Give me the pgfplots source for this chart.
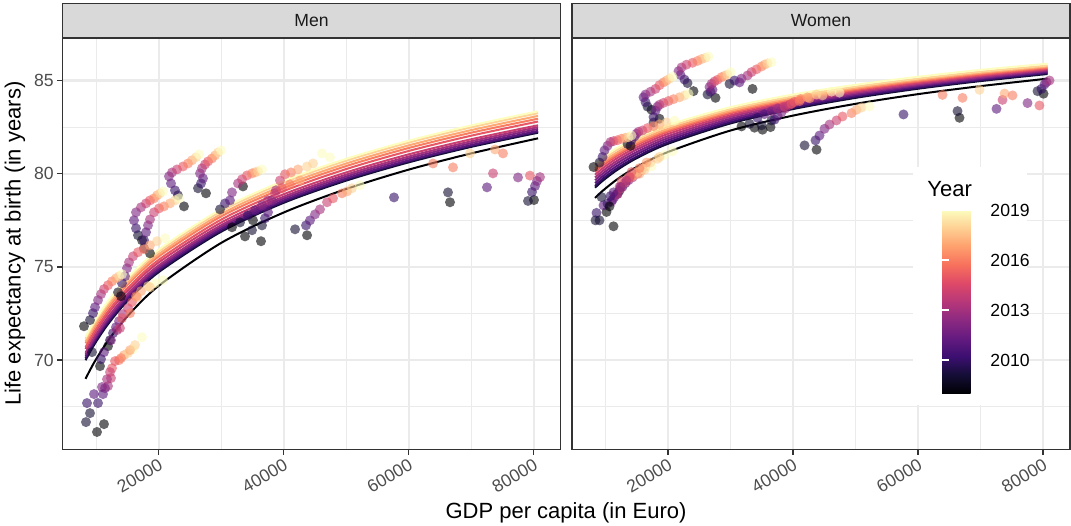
\documentclass[border=0pt]{standalone}
\usepackage{pgfplots}
\pgfplotsset{compat=1.18}
\usepackage{pgfplotstable}
\usepackage{fontspec}
\setmainfont{Liberation Sans}
\definecolor{grey92}{HTML}{EBEBEB}
\definecolor{grey85}{HTML}{D9D9D9}
\definecolor{grey20}{HTML}{333333}
\definecolor{grey30}{HTML}{4D4D4D}
\definecolor{grey10}{HTML}{1A1A1A}
\definecolor{y2008}{RGB}{0,0,4}
\definecolor{y2009}{RGB}{18,13,50}
\definecolor{y2010}{RGB}{52,15,101}
\definecolor{y2011}{RGB}{89,23,124}
\definecolor{y2012}{RGB}{125,36,129}
\definecolor{y2013}{RGB}{163,49,125}
\definecolor{y2014}{RGB}{201,63,113}
\definecolor{y2015}{RGB}{231,87,100}
\definecolor{y2016}{RGB}{249,125,97}
\definecolor{y2017}{RGB}{254,168,116}
\definecolor{y2018}{RGB}{254,211,150}
\definecolor{y2019}{RGB}{252,253,191}
\pgfplotsset{colormap={magma}{rgb255=(0,0,4) rgb255=(20,14,54) rgb255=(59,15,112) rgb255=(100,26,128) rgb255=(140,41,129) rgb255=(183,55,121) rgb255=(222,73,104) rgb255=(247,112,92) rgb255=(254,159,109) rgb255=(254,207,146) rgb255=(252,253,191)}}
\pgfplotsset{
  panel/.style={
    scale only axis, width=249pt, height=205.65pt,
    xmin=4.61, xmax=84.29, ymin=65.22, ymax=87.28,
    xtick={20,40,60,80}, xticklabels={20000,40000,60000,80000},
    ytick={70,75,80,85},
    minor xtick={10,30,50,70}, minor ytick={67.5,72.5,77.5,82.5},
    grid=both,
    major grid style={grey92, line width=1.07pt},
    minor grid style={grey92, line width=0.53pt},
    axis line style={grey20, line width=0.75pt},
    tick align=outside, xtick pos=bottom, ytick pos=left,
    major tick length=2.75pt, minor tick length=0pt,
    major tick style={grey20, line width=0.75pt},
    tick label style={font=\fontsize{8.8}{10}\selectfont, text=grey30},
    xticklabel style={rotate=30, anchor=north east, inner sep=1pt},
    yticklabel style={inner sep=1.5pt},
    colormap name=magma, point meta min=2008, point meta max=2019,
  },
  pts/.style={scatter, only marks, mark=*, mark size=2.5pt, scatter src=explicit,
    scatter/use mapped color={draw=mapped color, fill=mapped color},
    mark options={draw opacity=0, fill opacity=0.6}},
  fit/.style={line width=1pt, smooth, no marks},
}
\pgfplotstableread{
x m w year
24.05 78.25 84.43 2008
23.09 78.84 84.86 2009
22.61 79.11 85.05 2010
21.97 79.48 85.30 2011
21.65 79.86 85.50 2012
22.13 80.07 85.70 2013
22.93 80.23 85.85 2014
23.89 80.39 85.95 2015
24.69 80.55 86.05 2016
25.33 80.72 86.15 2017
25.97 80.88 86.22 2018
26.45 81.04 86.29 2019
27.57 78.95 84.07 2008
26.29 79.22 84.25 2009
26.77 79.48 84.40 2010
27.09 79.75 84.50 2011
26.61 80.02 84.65 2012
26.93 80.29 84.82 2013
27.41 80.50 84.95 2014
27.89 80.66 85.04 2015
28.53 80.82 85.18 2016
29.01 80.98 85.25 2017
29.49 81.14 85.32 2018
29.97 81.25 85.45 2019
17.33 76.43 83.43 2008
16.69 76.70 83.60 2009
16.37 77.07 83.84 2010
16.05 77.50 84.10 2011
16.37 77.93 84.25 2012
17.17 78.20 84.40 2013
17.97 78.41 84.55 2014
18.61 78.57 84.75 2015
19.25 78.68 84.90 2016
19.73 78.84 85.00 2017
20.21 78.95 85.10 2018
20.69 79.05 85.21 2019
18.61 75.73 82.95 2008
17.65 76.00 82.75 2009
17.65 76.43 83.04 2010
17.97 76.86 83.39 2011
18.29 77.23 83.60 2012
18.61 77.55 83.70 2013
19.25 77.93 83.80 2014
20.05 78.14 83.90 2015
20.85 78.25 84.00 2016
21.81 78.41 84.10 2017
22.61 78.57 84.20 2018
23.25 78.68 84.29 2019
13.97 73.43 81.50 2008
13.49 73.64 81.60 2009
14.13 74.13 81.80 2010
14.61 74.50 82.00 2011
14.93 74.93 82.15 2012
15.25 75.25 82.25 2013
15.89 75.57 82.32 2014
16.69 75.79 82.45 2015
17.65 75.95 82.55 2016
18.61 76.16 82.65 2017
19.73 76.38 82.75 2018
21.01 76.54 82.85 2019
8.05 71.82 80.36 2008
9.01 72.15 80.60 2009
9.49 72.52 80.90 2010
9.81 72.84 81.25 2011
10.29 73.22 81.50 2012
10.77 73.54 81.70 2013
11.25 73.81 81.75 2014
11.89 74.02 81.80 2015
12.53 74.23 81.88 2016
13.17 74.39 81.93 2017
13.65 74.50 81.96 2018
14.13 74.61 82.05 2019
11.89 70.75 78.93 2008
12.21 71.07 79.10 2009
12.69 71.45 79.30 2010
13.17 71.77 79.50 2011
13.65 72.09 79.65 2012
14.29 72.47 79.80 2013
15.09 72.79 80.00 2014
15.73 73.11 80.20 2015
16.37 73.43 80.40 2016
17.17 73.70 80.60 2017
18.29 73.97 80.80 2018
19.41 74.13 81.00 2019
10.13 66.15 77.95 2008
8.37 66.68 77.50 2009
8.53 67.70 77.90 2010
9.65 68.18 78.30 2011
10.93 68.56 78.50 2012
11.89 68.61 78.90 2013
12.37 69.04 79.20 2014
12.53 69.57 79.60 2015
13.65 70.00 79.80 2016
14.45 70.27 79.90 2017
15.09 70.38 80.10 2018
15.89 70.59 80.27 2019
11.25 66.57 77.18 2008
9.01 67.16 77.50 2009
10.29 67.70 78.40 2010
11.09 68.18 78.60 2011
11.41 68.50 78.75 2012
11.73 68.98 78.90 2013
12.21 69.36 79.30 2014
13.01 69.95 79.50 2015
13.97 70.11 79.80 2016
15.41 70.54 80.00 2017
16.21 70.81 80.20 2018
17.33 71.23 80.40 2019
10.61 69.68 78.25 2008
9.33 70.43 78.75 2009
10.77 70.06 78.80 2010
11.25 70.43 79.00 2011
12.37 71.07 79.29 2012
13.33 71.61 79.64 2013
13.81 71.72 79.82 2014
14.13 72.25 80.09 2015
15.41 72.52 80.30 2016
16.53 73.38 80.60 2017
18.61 73.91 80.90 2018
20.69 74.29 81.20 2019
33.49 79.32 84.55 2008
29.81 78.09 84.82 2009
30.61 78.41 85.00 2010
31.41 78.57 84.90 2011
31.73 79.00 85.10 2012
32.69 79.48 85.27 2013
33.33 79.70 85.45 2014
34.13 79.91 85.60 2015
34.93 80.02 85.75 2016
35.41 80.07 85.85 2017
35.89 80.13 85.92 2018
36.53 80.23 85.98 2019
43.74 76.70 81.29 2008
41.82 77.02 81.52 2009
43.57 77.23 81.79 2010
44.21 77.50 82.05 2011
45.01 77.82 82.41 2012
45.81 78.09 82.64 2013
46.93 78.47 82.86 2014
47.89 78.68 83.07 2015
49.33 78.95 83.25 2016
50.13 79.05 83.43 2017
50.93 79.22 83.55 2018
52.21 79.38 83.61 2019
31.73 77.13 82.54 2008
33.81 76.64 82.47 2008
35.09 77.50 82.36 2008
36.37 76.38 82.50 2008
33.01 77.39 82.68 2009
34.93 76.97 82.60 2009
36.53 77.23 82.86 2009
37.01 77.61 82.90 2010
34.29 77.77 83.00 2010
37.49 77.93 83.10 2011
35.41 78.04 83.20 2011
38.13 78.57 83.30 2012
36.53 78.30 83.35 2012
38.77 79.11 83.50 2013
37.49 78.57 83.50 2013
39.41 79.64 83.70 2014
38.61 78.95 83.60 2014
40.21 79.97 83.85 2015
39.73 79.22 83.75 2015
41.17 80.07 84.00 2016
41.01 79.43 83.90 2016
42.29 80.23 84.10 2017
42.61 79.64 84.05 2017
43.73 80.39 84.25 2018
44.69 80.55 84.20 2018
46.13 81.09 84.40 2019
47.41 80.88 84.35 2019
66.61 78.47 83.00 2008
66.29 79.00 83.36 2009
57.65 78.73 83.18 2010
72.53 79.27 83.48 2011
77.49 79.80 83.79 2012
73.49 80.02 83.96 2014
63.89 80.55 84.23 2016
67.09 80.34 84.07 2016
69.81 81.09 84.50 2018
73.81 81.30 84.30 2017
75.09 81.09 84.20 2016
80.05 78.59 84.29 2008
79.09 78.54 84.43 2009
79.73 79.02 84.55 2010
80.21 79.34 84.79 2011
80.53 79.61 84.91 2012
81.01 79.82 85.00 2013
79.40 79.90 83.66 2015
}\pts
\begin{document}
\begin{tikzpicture}
\useasboundingbox (0,0) rectangle (535.5pt,262.5pt);
% Men
\begin{axis}[panel, at={(31.25pt,37.85pt)}, anchor=south west, yticklabels={70,75,80,85}]
\addplot[pts] table[x=x, y=m, meta=year] {\pts};
\addplot[fit, y2008] coordinates {(8.3,69.00) (9,69.46) (10,70.06) (12,71.09) (15,72.36) (20,73.99) (30,76.29) (40,77.92) (50,79.18) (60,80.22) (70,81.09) (80.7,81.90)};
\addplot[fit, y2009] coordinates {(8.3,70.00) (9,70.43) (10,71.00) (12,71.98) (15,73.17) (20,74.72) (30,76.89) (40,78.44) (50,79.63) (60,80.61) (70,81.44) (80.7,82.20)};
\addplot[fit, y2010] coordinates {(8.3,70.10) (9,70.53) (10,71.10) (12,72.07) (15,73.26) (20,74.80) (30,76.96) (40,78.50) (50,79.69) (60,80.67) (70,81.49) (80.7,82.25)};
\addplot[fit, y2011] coordinates {(8.3,70.20) (9,70.63) (10,71.19) (12,72.16) (15,73.35) (20,74.88) (30,77.04) (40,78.57) (50,79.75) (60,80.72) (70,81.54) (80.7,82.30)};
\addplot[fit, y2012] coordinates {(8.3,70.30) (9,70.73) (10,71.29) (12,72.26) (15,73.45) (20,74.98) (30,77.14) (40,78.67) (50,79.85) (60,80.82) (70,81.64) (80.7,82.40)};
\addplot[fit, y2013] coordinates {(8.3,70.40) (9,70.83) (10,71.39) (12,72.36) (15,73.55) (20,75.08) (30,77.24) (40,78.77) (50,79.95) (60,80.92) (70,81.74) (80.7,82.50)};
\addplot[fit, y2014] coordinates {(8.3,70.60) (9,71.03) (10,71.58) (12,72.55) (15,73.72) (20,75.24) (30,77.38) (40,78.90) (50,80.07) (60,81.04) (70,81.85) (80.7,82.60)};
\addplot[fit, y2015] coordinates {(8.3,70.70) (9,71.13) (10,71.69) (12,72.66) (15,73.85) (20,75.38) (30,77.54) (40,79.07) (50,80.25) (60,81.22) (70,82.04) (80.7,82.80)};
\addplot[fit, y2016] coordinates {(8.3,70.90) (9,71.33) (10,71.89) (12,72.85) (15,74.04) (20,75.56) (30,77.71) (40,79.23) (50,80.41) (60,81.38) (70,82.20) (80.7,82.95)};
\addplot[fit, y2017] coordinates {(8.3,71.00) (9,71.43) (10,71.99) (12,72.96) (15,74.15) (20,75.68) (30,77.84) (40,79.37) (50,80.55) (60,81.52) (70,82.34) (80.7,83.10)};
\addplot[fit, y2018] coordinates {(8.3,71.15) (9,71.58) (10,72.14) (12,73.11) (15,74.30) (20,75.83) (30,77.99) (40,79.52) (50,80.70) (60,81.67) (70,82.49) (80.7,83.25)};
\addplot[fit, y2019] coordinates {(8.3,71.25) (9,71.68) (10,72.24) (12,73.21) (15,74.40) (20,75.93) (30,78.09) (40,79.62) (50,80.80) (60,81.77) (70,82.59) (80.7,83.35)};
\end{axis}
% Women
\begin{axis}[panel, at={(286pt,37.85pt)}, anchor=south west, yticklabels={}, ytick style={draw=none},
  colorbar,
  colorbar style={at={(parent axis.south west)}, anchor=south west, xshift=176.5pt, yshift=28pt,
    scale only axis, width=18.35pt, height=91.65pt,
    ytick={2010,2013,2016,2019}, yticklabels={2010,2013,2016,2019},
    yticklabel pos=right, ytick pos=both, tick align=inside,
    major tick length=3.4pt, major tick style={white, line width=0.6pt},
    axis line style={draw=none},
    yticklabel style={font=\fontsize{8.8}{10}\selectfont, text=black, anchor=west, inner sep=0pt, xshift=5.65pt}}]
\addplot[pts] table[x=x, y=w, meta=year] {\pts};
\addplot[fit, y2008] coordinates {(8.3,78.70) (9,78.93) (10,79.22) (12,79.74) (15,80.37) (20,81.17) (30,82.32) (40,83.12) (50,83.75) (60,84.27) (70,84.70) (80.7,85.10)};
\addplot[fit, y2009] coordinates {(8.3,79.25) (9,79.47) (10,79.75) (12,80.24) (15,80.84) (20,81.61) (30,82.70) (40,83.47) (50,84.07) (60,84.56) (70,84.97) (80.7,85.35)};
\addplot[fit, y2010] coordinates {(8.3,79.35) (9,79.57) (10,79.85) (12,80.33) (15,80.92) (20,81.69) (30,82.77) (40,83.53) (50,84.13) (60,84.61) (70,85.02) (80.7,85.40)};
\addplot[fit, y2011] coordinates {(8.3,79.50) (9,79.71) (10,79.99) (12,80.46) (15,81.05) (20,81.80) (30,82.86) (40,83.61) (50,84.20) (60,84.68) (70,85.08) (80.7,85.45)};
\addplot[fit, y2012] coordinates {(8.3,79.65) (9,79.86) (10,80.13) (12,80.60) (15,81.17) (20,81.91) (30,82.95) (40,83.69) (50,84.27) (60,84.74) (70,85.13) (80.7,85.50)};
\addplot[fit, y2013] coordinates {(8.3,79.80) (9,80.00) (10,80.27) (12,80.73) (15,81.30) (20,82.02) (30,83.05) (40,83.78) (50,84.34) (60,84.80) (70,85.19) (80.7,85.55)};
\addplot[fit, y2014] coordinates {(8.3,79.95) (9,80.15) (10,80.41) (12,80.87) (15,81.42) (20,82.14) (30,83.14) (40,83.86) (50,84.41) (60,84.86) (70,85.25) (80.7,85.60)};
\addplot[fit, y2015] coordinates {(8.3,80.10) (9,80.30) (10,80.55) (12,81.00) (15,81.54) (20,82.25) (30,83.24) (40,83.94) (50,84.48) (60,84.93) (70,85.30) (80.7,85.65)};
\addplot[fit, y2016] coordinates {(8.3,80.20) (9,80.40) (10,80.65) (12,81.09) (15,81.63) (20,82.33) (30,83.31) (40,84.00) (50,84.54) (60,84.98) (70,85.36) (80.7,85.70)};
\addplot[fit, y2017] coordinates {(8.3,80.30) (9,80.49) (10,80.75) (12,81.18) (15,81.72) (20,82.41) (30,83.38) (40,84.07) (50,84.60) (60,85.04) (70,85.41) (80.7,85.75)};
\addplot[fit, y2018] coordinates {(8.3,80.45) (9,80.64) (10,80.89) (12,81.32) (15,81.84) (20,82.52) (30,83.47) (40,84.15) (50,84.67) (60,85.10) (70,85.47) (80.7,85.80)};
\addplot[fit, y2019] coordinates {(8.3,80.55) (9,80.74) (10,80.99) (12,81.42) (15,81.94) (20,82.62) (30,83.57) (40,84.25) (50,84.77) (60,85.20) (70,85.57) (80.7,85.90)};
\fill[white] (rel axis cs:0.6847,0.1076) rectangle (rel axis cs:0.9137,0.6855);
\end{axis}
% strips
\draw[grey20, line width=0.75pt, fill=grey85] (31.25pt,243.5pt) rectangle (280.25pt,260.75pt);
\node[font=\fontsize{8.8}{10}\selectfont, text=grey10] at (155.75pt,252.1pt) {Men};
\draw[grey20, line width=0.75pt, fill=grey85] (286pt,243.5pt) rectangle (535pt,260.75pt);
\node[font=\fontsize{8.8}{10}\selectfont, text=grey10] at (410.5pt,252.1pt) {Women};
% titles
\node[rotate=90, font=\fontsize{11}{13}\selectfont] at (7.5pt,140.7pt) {Life expectancy at birth (in years)};
\node[anchor=base, font=\fontsize{11}{13}\selectfont] at (283pt,3.3pt) {GDP per capita (in Euro)};
\node[anchor=base west, font=\fontsize{11}{13}\selectfont, inner sep=0pt] at (463.5pt,164pt) {Year};
\end{tikzpicture}
\end{document}
